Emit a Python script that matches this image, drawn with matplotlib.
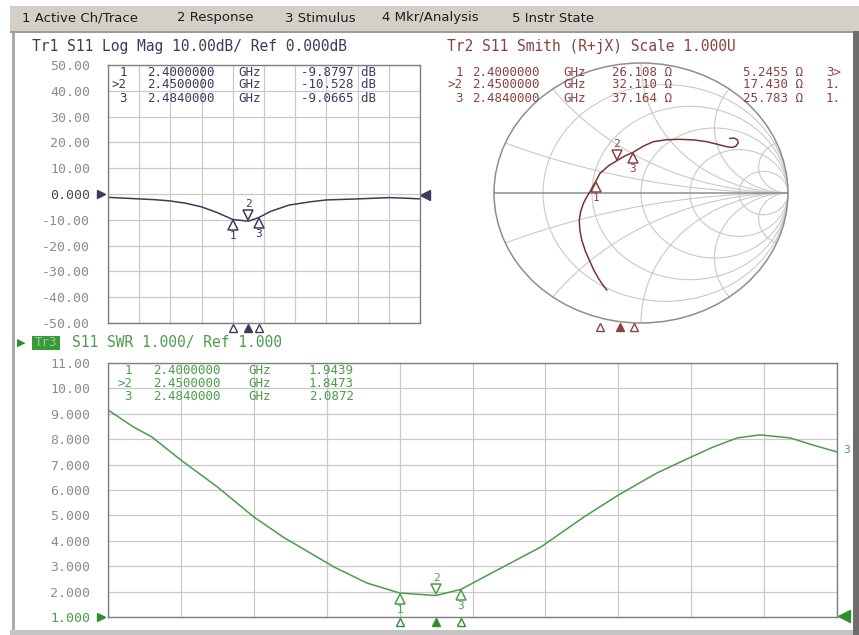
import matplotlib
matplotlib.use("Agg")
import matplotlib.pyplot as plt
from matplotlib.patches import Rectangle, Circle
from matplotlib.transforms import offset_copy
import numpy as np

# menu bar
menu_items = ["1 Active Ch/Trace", "2 Response", "3 Stimulus", "4 Mkr/Analysis", "5 Instr State"]
menu_x = [22, 177, 285, 382, 512]

# markers (GHz) and readouts
mk_freq = [2.40, 2.45, 2.484]
mk_db = [-9.8797, -10.528, -9.0665]
mk_r = [26.108, 32.110, 37.164]
mk_x = [5.2455, 17.430, 25.783]
mk_swr = [1.9439, 1.8473, 2.0872]

# Tr1 log mag trace
lm_freq = [2.00, 2.05, 2.10, 2.15, 2.20, 2.25, 2.30, 2.35, 2.40, 2.45, 2.484, 2.52,
           2.58, 2.65, 2.70, 2.80, 2.90, 2.95, 3.00]
lm_db = [-1.3, -1.6, -1.9, -2.2, -2.7, -3.6, -5.0, -7.2, -9.88, -10.53, -9.07, -6.8,
         -4.3, -3.0, -2.3, -1.9, -1.4, -1.6, -1.9]

# Tr2 smith trace (reflection coefficient)
sm_re = [-0.233, -0.262, -0.290, -0.320, -0.347, -0.378, -0.403, -0.416, -0.420, -0.410,
         -0.392, -0.370, -0.347, -0.308, -0.279, -0.220, -0.165, -0.110, -0.055, 0.015,
         0.084, 0.175, 0.265, 0.360, 0.447, 0.520, 0.583, 0.620, 0.645, 0.662, 0.655,
         0.635, 0.605]
sm_im = [-0.746, -0.703, -0.656, -0.595, -0.528, -0.448, -0.362, -0.285, -0.208, -0.140,
         -0.080, -0.032, 0.010, 0.090, 0.151, 0.210, 0.248, 0.285, 0.312, 0.360,
         0.395, 0.410, 0.413, 0.408, 0.395, 0.375, 0.356, 0.350, 0.360, 0.385, 0.410,
         0.422, 0.420]

# Tr3 SWR trace
swr_freq = [2.00, 2.035, 2.06, 2.10, 2.15, 2.20, 2.24, 2.31, 2.355, 2.40, 2.45, 2.484,
            2.534, 2.594, 2.653, 2.70, 2.753, 2.80, 2.83, 2.863, 2.894, 2.936, 2.967, 3.00]
swr_val = [9.15, 8.48, 8.09, 7.18, 6.12, 4.94, 4.15, 2.97, 2.34, 1.944, 1.847, 2.087,
           2.85, 3.76, 4.94, 5.80, 6.67, 7.30, 7.69, 8.05, 8.17, 8.05, 7.77, 7.50]

W, H = 859, 635
MONO = "DejaVu Sans Mono"
C1 = "#3b3b5c"
C2 = "#8a4242"
C3 = "#4c9c4c"
GRID = "#c9c9c9"
RO = 9  # readout font size


def fx(x):
    return x / W


def fy(y):
    return 1 - y / H


def ftext(x, y, s, **kw):
    kw.setdefault("family", MONO)
    kw.setdefault("fontsize", 10.5)
    kw.setdefault("va", "center")
    fig.text(fx(x), fy(y), s, **kw)


def rect(x0, y0, x1, y1, color):
    fig.add_artist(Rectangle((fx(x0), fy(y1)), (x1 - x0) / W, (y1 - y0) / H,
                             transform=fig.transFigure, color=color, lw=0, zorder=0))


def marker(ax, x, y, num, above, color):
    if above:
        t = offset_copy(ax.transData, fig=fig, x=0, y=6, units="dots")
        ax.plot(x, y, "v", ms=7, mfc="white", mec=color, mew=1.1, transform=t, clip_on=False, zorder=5)
        t2 = offset_copy(ax.transData, fig=fig, x=0, y=17, units="dots")
    else:
        t = offset_copy(ax.transData, fig=fig, x=0, y=-6, units="dots")
        ax.plot(x, y, "^", ms=7, mfc="white", mec=color, mew=1.1, transform=t, clip_on=False, zorder=5)
        t2 = offset_copy(ax.transData, fig=fig, x=0, y=-17, units="dots")
    ax.text(x, y, num, transform=t2, color=color, family=MONO, fontsize=8,
            ha="center", va="center", clip_on=False, zorder=5)


def stim_markers(ax, freqs, color):
    t = offset_copy(ax.get_xaxis_transform(), fig=fig, x=0, y=-5, units="dots")
    for i, f in enumerate(freqs):
        fc = color if i == 1 else "white"
        ax.plot(f, 0, "^", ms=6, mfc=fc, mec=color, mew=1, transform=t, clip_on=False, zorder=6)


def setup_rect_axes(ax, ylo, yhi, yticks, ylabels, label_color):
    ax.set_xlim(2.0, 3.0)
    ax.set_ylim(ylo, yhi)
    ax.set_xticks(np.linspace(2.0, 3.0, 11))
    ax.set_yticks(yticks)
    ax.set_yticklabels(ylabels, family=MONO, fontsize=9.5, color=label_color)
    ax.tick_params(axis="x", length=0, labelbottom=False)
    ax.tick_params(axis="y", length=0, pad=13)
    ax.grid(True, color=GRID, lw=0.9)
    for s in ax.spines.values():
        s.set_color("#7e7e7e")
        s.set_linewidth(1.0)


fig = plt.figure(figsize=(W / 100, H / 100), dpi=100)
fig.patch.set_facecolor("white")

# window frame
rect(10, 6, 859, 31, "#d4d0c8")
rect(10, 31, 859, 33, "#9c9c9c")
rect(12, 33, 15, 632, "#ababab")
rect(853, 31, 859, 635, "#6e6e6e")
rect(10, 630, 853, 635, "#c4c4c4")
for s, x in zip(menu_items, menu_x):
    ftext(x, 18, s, family="DejaVu Sans", fontsize=9.5, color="#1e1e1e")

# ---- Tr1 log mag ----
ax1 = fig.add_axes([fx(108), fy(323), 312 / W, 258 / H])
db_ticks = list(range(-50, 51, 10))
db_labels = ["%.2f" % v if v != 0 else "0.000" for v in db_ticks]
setup_rect_axes(ax1, -50, 50, db_ticks, db_labels, "#8c8c8c")
ax1.get_yticklabels()[5].set_color("#4a4a4a")
ax1.plot(lm_freq, lm_db, color=C1, lw=1.1)
t = offset_copy(ax1.transData, fig=fig, x=-7, y=0, units="dots")
ax1.plot(2.0, 0, ">", ms=6, color=C1, transform=t, clip_on=False)
t = offset_copy(ax1.transData, fig=fig, x=5, y=-1, units="dots")
ax1.plot(3.0, 0, "<", ms=7, color=C1, transform=t, clip_on=False)
for i in range(3):
    marker(ax1, mk_freq[i], mk_db[i], str(i + 1), i == 1, C1)
stim_markers(ax1, mk_freq, C1)

ftext(32, 47, "Tr1 S11 Log Mag 10.00dB/ Ref 0.000dB", color=C1)
rows = [72, 85, 98]
for i in range(3):
    ftext(127, rows[i], (">" if i == 1 else "") + str(i + 1), color=C1, ha="right", fontsize=RO)
    ftext(147, rows[i], "%.7f" % mk_freq[i], color=C1, fontsize=RO)
    ftext(238, rows[i], "GHz", color=C1, fontsize=RO)
    ftext(376, rows[i], "%.5g dB" % mk_db[i], color=C1, ha="right", fontsize=RO)

# ---- Tr2 smith ----
ax2 = fig.add_axes([fx(494), fy(323), 294 / W, 260 / H])
ax2.set_xlim(-1, 1)
ax2.set_ylim(-1, 1)
ax2.axis("off")
clip = Circle((0, 0), 1, transform=ax2.transData)
for r in [0.2, 0.5, 1, 2, 5]:
    c = Circle((r / (1 + r), 0), 1 / (1 + r), fill=False, ec=GRID, lw=0.8)
    ax2.add_patch(c)
    c.set_clip_path(clip)
for xv in [0.2, 0.5, 1, 2, 5]:
    for sgn in (1, -1):
        c = Circle((1, sgn / xv), 1 / xv, fill=False, ec=GRID, lw=0.8)
        ax2.add_patch(c)
        c.set_clip_path(clip)
ax2.add_patch(Circle((0, 0), 1, fill=False, ec="#8e8e8e", lw=1.1, clip_on=False))
ax2.plot([-1, 1], [0, 0], color="#8e8e8e", lw=1.1, clip_on=False)
ax2.plot(sm_re, sm_im, color="#7a3434", lw=1.1)
for i in range(3):
    z = complex(mk_r[i], mk_x[i]) / 50.0
    g = (z - 1) / (z + 1)
    marker(ax2, g.real, g.imag, str(i + 1), i == 1, C2)
for i, f in enumerate(mk_freq):
    xp = 440 + (f - 2.0) * 400
    fc = C2 if i == 1 else "white"
    fig.lines.append(plt.Line2D([fx(xp)], [fy(327)], marker="^", ms=6, mfc=fc, mec=C2,
                                mew=1, transform=fig.transFigure))

ftext(447, 47, "Tr2 S11 Smith (R+jX) Scale 1.000U", color=C2)
extra = ["3>", "1.", "1."]
for i in range(3):
    ftext(463, rows[i], (">" if i == 1 else "") + str(i + 1), color=C2, ha="right", fontsize=RO)
    ftext(472, rows[i], "%.7f" % mk_freq[i], color=C2, fontsize=RO)
    ftext(563, rows[i], "GHz", color=C2, fontsize=RO)
    ftext(672, rows[i], "%.3f Ω" % mk_r[i], color=C2, ha="right", fontsize=RO)
    ftext(803, rows[i], ("%.4f Ω" if i == 0 else "%.3f Ω") % mk_x[i], color=C2, ha="right", fontsize=RO)
    ftext(826, rows[i], extra[i], color=C2, fontsize=RO)

# ---- Tr3 SWR ----
ax3 = fig.add_axes([fx(108), fy(617), 729 / W, 254 / H])
swr_ticks = list(range(1, 12))
swr_labels = ["%.3f" % v if v < 10 else "%.2f" % v for v in swr_ticks]
setup_rect_axes(ax3, 1, 11, swr_ticks, swr_labels, "#8c8c8c")
ax3.get_yticklabels()[0].set_color(C3)
ax3.plot(swr_freq, swr_val, color=C3, lw=1.1)
t = offset_copy(ax3.transData, fig=fig, x=-7, y=0, units="dots")
ax3.plot(2.0, 1.0, ">", ms=6, color="#2f8f2f", transform=t, clip_on=False)
t = offset_copy(ax3.transData, fig=fig, x=7, y=1, units="dots")
ax3.plot(3.0, 1.0, "<", ms=8, color="#2f8f2f", transform=t, clip_on=False)
for i in range(3):
    marker(ax3, mk_freq[i], mk_swr[i], str(i + 1), i == 1, C3)
stim_markers(ax3, mk_freq, "#2f8f2f")
ftext(843, 450, "3", color=C3, fontsize=8)

ftext(17, 343, "▶", family="DejaVu Sans", fontsize=8, color="#2f8f2f")
rect(32, 336, 60, 350, "#3a9a3a")
ftext(46, 343, "Tr3", color="#8fd08f", fontsize=9, ha="center")
ftext(72, 343, "S11 SWR 1.000/ Ref 1.000", color=C3)
for i in range(3):
    ftext(132, 370 + 13.5 * i, (">" if i == 1 else "") + str(i + 1), color=C3, ha="right", fontsize=RO)
    ftext(153, 370 + 13.5 * i, "%.7f" % mk_freq[i], color=C3, fontsize=RO)
    ftext(248, 370 + 13.5 * i, "GHz", color=C3, fontsize=RO)
    ftext(354, 370 + 13.5 * i, "%.4f" % mk_swr[i], color=C3, ha="right", fontsize=RO)

fig.savefig("out.png", dpi=100)
